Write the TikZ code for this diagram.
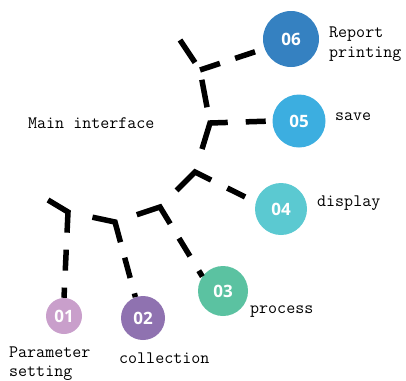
\documentclass[tikz,border=0pt]{standalone}
\usepackage{fontspec}
\newfontfamily\numfont{Open Sans}
\definecolor{cA}{HTML}{C99FCB}
\definecolor{cB}{HTML}{8F72B0}
\definecolor{cC}{HTML}{5BC2A1}
\definecolor{cD}{HTML}{5BC9D1}
\definecolor{cE}{HTML}{3CAEE0}
\definecolor{cF}{HTML}{3581C1}
\tikzset{
  stepdot/.style={circle, inner sep=0pt, text=white,
    font=\numfont\bfseries\fontsize{17}{17}\selectfont},
  lbl/.style={anchor=base west, inner sep=0pt,
    font=\ttfamily\fontsize{17.5}{21}\selectfont},
  dl/.style={line width=5.5pt, line cap=butt, line join=miter, black}
}
\begin{document}
\begin{tikzpicture}[x=1pt,y=-1pt]
\useasboundingbox (0,0) rectangle (406,380);

% step circles
\node[stepdot, fill=cA, minimum size=36pt] (c1) at (64,316) {01};
\node[stepdot, fill=cB, minimum size=44pt] (c2) at (143,318) {02};
\node[stepdot, fill=cC, minimum size=50pt] (c3) at (223,291) {03};
\node[stepdot, fill=cD, minimum size=52pt] (c4) at (281,209) {04};
\node[stepdot, fill=cE, minimum size=53pt] (c5) at (299,121) {05};
\node[stepdot, fill=cF, minimum size=56pt] (c6) at (291,39) {06};

% branching points of the trunk
\coordinate (tl) at (48,200);
\coordinate (j1) at (68,212);
\coordinate (j2) at (115,222);
\coordinate (j3) at (160,207);
\coordinate (j4) at (195,172);
\coordinate (j5) at (210,123);
\coordinate (j6) at (200,70);
\coordinate (tt) at (180,40);

% dashed trunk and branches
\draw[dl, dash pattern=on 44pt off 17pt on 21pt off 17pt on 21pt off 30pt]
  (tl) -- (j1) -- (c1.north);
\draw[dl, dash pattern=on 0pt off 25pt on 44pt off 16pt on 21pt off 16pt on 21pt off 30pt]
  (j1) -- (j2) -- (c2.110);
\draw[dl, dash pattern=on 0pt off 23pt on 44pt off 17pt on 21pt off 17pt on 21pt off 30pt]
  (j2) -- (j3) -- (c3.145);
\draw[dl, dash pattern=on 0pt off 23.5pt on 44pt off 18pt on 20pt off 30pt]
  (j3) -- (j4) -- (c4.165);
\draw[dl, dash pattern=on 0pt off 24pt on 45pt off 18pt on 20pt off 30pt]
  (j4) -- (j5) -- (c5.west);
\draw[dl, dash pattern=on 0pt off 16pt on 28pt off 20pt]
  (j5) -- (j6);
\draw[dl, dash pattern=on 0pt off 9pt on 30pt off 10pt]
  (j6) -- (tt);
\draw[dl, dash pattern=on 21pt off 16pt on 21pt off 30pt]
  (j6) -- (c6.200);

% labels
\node[lbl] (tmain) at (28,128) {Main interface};
\node[lbl] (t6a) at (329,37) {Report};
\node[lbl] (t6b) at (329,57) {printing};
\node[lbl] (t5) at (335,120) {save};
\node[lbl] (t4) at (317,206) {display};
\node[lbl] (t3) at (250,313) {process};
\node[lbl] (t2) at (119,363) {collection};
\node[lbl] (t1a) at (9,357) {Parameter};
\node[lbl] (t1b) at (9,376) {setting};
\end{tikzpicture}
\end{document}
